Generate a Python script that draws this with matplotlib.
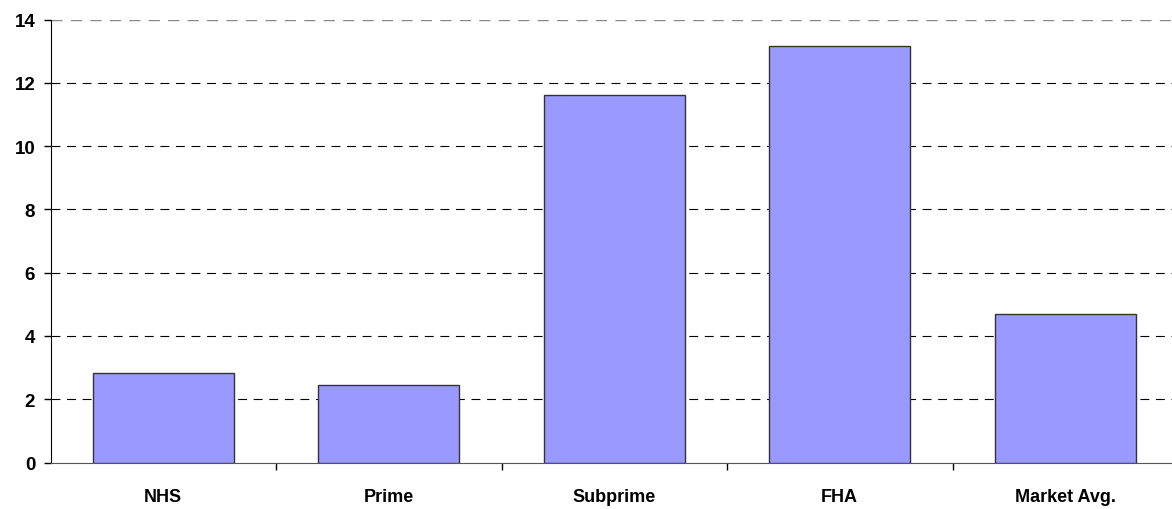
import matplotlib
matplotlib.use('Agg')
from matplotlib import pyplot as plt

categories = ['NHS', 'Prime', 'Subprime', 'FHA', 'Market Avg.']
values = [2.82, 2.45, 11.61, 13.17, 4.69]
y_ticks = [0, 2, 4, 6, 8, 10, 12, 14]

plt.rcParams['font.family'] = ['Liberation Sans', 'DejaVu Sans']
plt.rcParams['font.weight'] = 'bold'

W, H = 1172, 510
fig = plt.figure(figsize=(W / 100, H / 100), dpi=100)
# axes run slightly past the right edge of the figure
left, right = 50.5 / W, 1178 / W
bottom, top = 1 - 463.5 / H, 1 - 20.5 / H
ax = fig.add_axes([left, bottom, right - left, top - bottom])

x = list(range(len(categories)))
ax.bar(x, values, width=0.625, color='#9999FF', edgecolor='#333333',
       linewidth=1.0, zorder=3)

ax.set_xlim(-0.5, len(categories) - 0.5)
ax.set_ylim(0, 14)
ax.set_yticks(y_ticks)
ax.set_yticklabels([str(t) for t in y_ticks], fontsize=13.5, fontweight='bold')

for t in y_ticks[1:-1]:
    ax.axhline(t, color='black', linestyle=(0, (8, 6)), linewidth=0.8, zorder=1)
ax.axhline(14, color='#888888', linestyle=(0, (8, 6)), linewidth=1.0, zorder=1)

# category labels centred under bars, ticks between categories
ax.set_xticks([i + 0.5 for i in range(len(categories))])
ax.set_xticklabels([])
ax.set_xticks(x, minor=True)
ax.set_xticklabels(categories, minor=True, fontsize=13, fontweight='bold')
ax.tick_params(axis='x', which='minor', length=0, pad=18.5)
ax.tick_params(axis='x', which='major', length=5, width=1, direction='out')
ax.tick_params(axis='y', length=5, width=1, direction='out', pad=6)

for side in ['top', 'right']:
    ax.spines[side].set_visible(False)
ax.spines['left'].set_color('black')
ax.spines['bottom'].set_color('#555555')

fig.savefig('out.png', dpi=100)
